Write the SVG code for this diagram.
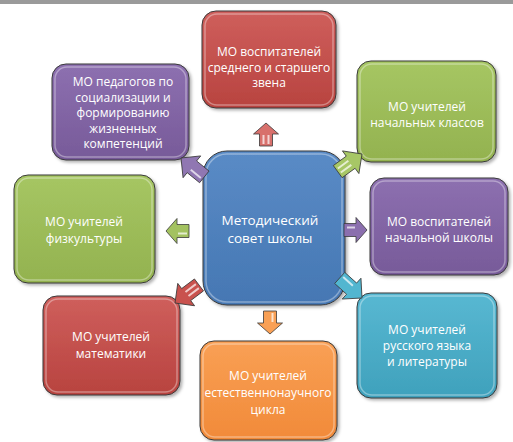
<svg xmlns="http://www.w3.org/2000/svg" xmlns:xlink="http://www.w3.org/1999/xlink" width="513" height="442" viewBox="0 0 513 442">
<defs>
<linearGradient id="gRed" x1="0" y1="0" x2="0" y2="1"><stop offset="0" stop-color="#cf5f5c"/><stop offset="1" stop-color="#b8433f"/></linearGradient>
<linearGradient id="gPur" x1="0" y1="0" x2="0" y2="1"><stop offset="0" stop-color="#8d70b0"/><stop offset="1" stop-color="#775a99"/></linearGradient>
<linearGradient id="gGrn" x1="0" y1="0" x2="0" y2="1"><stop offset="0" stop-color="#a6c663"/><stop offset="1" stop-color="#93b24f"/></linearGradient>
<linearGradient id="gCyn" x1="0" y1="0" x2="0" y2="1"><stop offset="0" stop-color="#58b8d2"/><stop offset="1" stop-color="#3fa1bc"/></linearGradient>
<linearGradient id="gOrg" x1="0" y1="0" x2="0" y2="1"><stop offset="0" stop-color="#f9a055"/><stop offset="1" stop-color="#f18a39"/></linearGradient>
<linearGradient id="gBlu" x1="0" y1="0" x2="0" y2="1"><stop offset="0" stop-color="#5a8bc6"/><stop offset="1" stop-color="#4577b3"/></linearGradient>
<filter id="sh" x="-10%" y="-10%" width="125%" height="125%"><feDropShadow dx="2" dy="2" stdDeviation="1.5" flood-color="#000" flood-opacity="0.3"/></filter>
<path id="arrL" d="M0,0 L-14,-14 L-14,-7.5 L-30,-7.5 L-30,7.5 L-14,7.5 L-14,14 Z"/>
<path id="arrS" d="M0,0 L-11,-12.5 L-11,-6.5 L-23,-6.5 L-23,6.5 L-11,6.5 L-11,12.5 Z"/>
</defs>
<style>
.box{stroke:#3a3a3a;stroke-width:1;filter:url(#sh)}
.hl{fill:none;stroke:#ffffff;stroke-opacity:0.35;stroke-width:1.5}
.t{font-family:"Open Sans","Noto Sans","Liberation Sans",sans-serif;font-size:12px;fill:#ffffff;text-anchor:middle}
.tc{font-size:13.5px}
.arr{stroke:#3a3a3a;stroke-width:0.8}
.stripe{stroke:#ffffff;stroke-opacity:0.7;stroke-width:2;fill:none}
</style>
<rect x="0" y="0" width="513" height="4" fill="#9a9a9a"/>

<g id="center">
<rect class="box" x="203" y="151" width="142" height="154" rx="24" fill="url(#gBlu)"/>
<rect class="hl" x="206" y="154" width="136" height="148" rx="21"/>
<text class="t tc" x="270" y="225">Методический</text>
<text class="t tc" x="270" y="243">совет школы</text>
</g>

<g id="n-top">
<rect class="box" x="202" y="11" width="134" height="97" rx="14" fill="url(#gRed)"/>
<rect class="hl" x="205" y="14" width="128" height="91" rx="12"/>
<text class="t" x="269" y="56">МО воспитателей</text>
<text class="t" x="269" y="71.5">среднего и старшего</text>
<text class="t" x="269" y="87">звена</text>
</g>

<g id="n-topleft">
<rect class="box" x="52" y="64" width="137" height="96" rx="14" fill="url(#gPur)"/>
<rect class="hl" x="55" y="67" width="131" height="90" rx="12"/>
<text class="t" x="123" y="86">МО педагогов по</text>
<text class="t" x="123" y="101.5">социализации и</text>
<text class="t" x="123" y="117">формированию</text>
<text class="t" x="123" y="132.5">жизненных</text>
<text class="t" x="123" y="148">компетенций</text>
</g>

<g id="n-topright">
<rect class="box" x="357" y="61" width="139" height="101" rx="14" fill="url(#gGrn)"/>
<rect class="hl" x="360" y="64" width="133" height="95" rx="12"/>
<text class="t" x="427" y="111">МО учителей</text>
<text class="t" x="427" y="127">начальных классов</text>
</g>

<g id="n-right">
<rect class="box" x="370" y="178" width="138" height="97" rx="14" fill="url(#gPur)"/>
<rect class="hl" x="373" y="181" width="132" height="91" rx="12"/>
<text class="t" x="439" y="226">МО воспитателей</text>
<text class="t" x="439" y="242">начальной школы</text>
</g>

<g id="n-bottomright">
<rect class="box" x="357" y="293" width="140" height="105" rx="14" fill="url(#gCyn)"/>
<rect class="hl" x="360" y="296" width="134" height="99" rx="12"/>
<text class="t" x="427" y="334">МО учителей</text>
<text class="t" x="427" y="350">русского языка</text>
<text class="t" x="427" y="366">и литературы</text>
</g>

<g id="n-bottom">
<rect class="box" x="200" y="341" width="137" height="99" rx="14" fill="url(#gOrg)"/>
<rect class="hl" x="203" y="344" width="131" height="93" rx="12"/>
<text class="t" x="268" y="380">МО учителей</text>
<text class="t" x="268" y="397">естественнонаучного</text>
<text class="t" x="268" y="414">цикла</text>
</g>

<g id="n-bottomleft">
<rect class="box" x="43" y="296" width="137" height="99" rx="14" fill="url(#gRed)"/>
<rect class="hl" x="46" y="299" width="131" height="93" rx="12"/>
<text class="t" x="111" y="341">МО учителей</text>
<text class="t" x="111" y="358">математики</text>
</g>

<g id="n-left">
<rect class="box" x="14" y="175" width="141" height="108" rx="14" fill="url(#gGrn)"/>
<rect class="hl" x="17" y="178" width="135" height="102" rx="12"/>
<text class="t" x="84" y="226">МО учителей</text>
<text class="t" x="84" y="243">физкультуры</text>
</g>

<g id="connectors">
<g transform="translate(266,123) rotate(-90)"><use xlink:href="#arrS" href="#arrS" class="arr" fill="#d8706c"/><path class="stripe" d="M-21,-2.5 L-12,-2.5 M-21,2.5 L-12,2.5"/></g>
<g transform="translate(181,158) rotate(-141)"><use xlink:href="#arrL" href="#arrL" class="arr" fill="#9077b2"/><path class="stripe" d="M-28,-3 L-15,-3"/></g>
<g transform="translate(362,154) rotate(-36)"><use xlink:href="#arrL" href="#arrL" class="arr" fill="#a7c766"/><path class="stripe" d="M-28,-2.5 L-15,-2.5 M-28,2.5 L-15,2.5"/></g>
<g transform="translate(367,230)"><use xlink:href="#arrS" href="#arrS" class="arr" fill="#8b6fae"/><path class="stripe" d="M-20,-2.5 L-12,-2.5"/></g>
<g transform="translate(362,298) rotate(42)"><use xlink:href="#arrL" href="#arrL" class="arr" fill="#52b6d0"/><path class="stripe" d="M-28,-3 L-15,-3"/></g>
<g transform="translate(270,334) rotate(90)"><use xlink:href="#arrS" href="#arrS" class="arr" fill="#f9a055"/><path class="stripe" d="M-21,-2.5 L-12,-2.5"/></g>
<g transform="translate(175,303) rotate(143)"><use xlink:href="#arrL" href="#arrL" class="arr" fill="#c9524e"/><path class="stripe" d="M-28,-2.5 L-15,-2.5 M-28,2.5 L-15,2.5"/></g>
<g transform="translate(166,231) rotate(180)"><use xlink:href="#arrS" href="#arrS" class="arr" fill="#a3c260"/><path class="stripe" d="M-21,-2.5 L-12,-2.5"/></g>
</g>
</svg>
